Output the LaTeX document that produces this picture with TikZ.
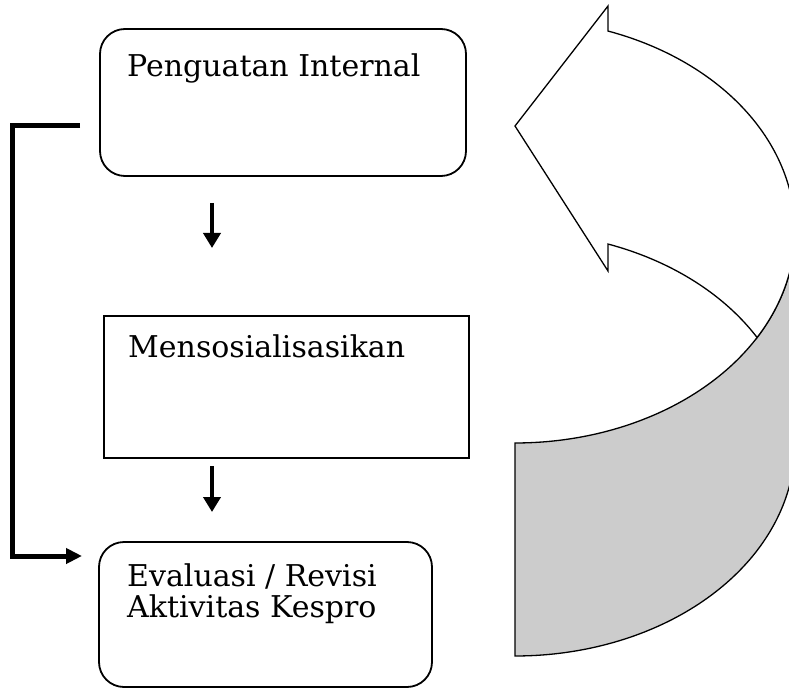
\documentclass[tikz,border=0pt]{standalone}
\usepackage{fontspec}
\setmainfont{DejaVu Serif}
\usetikzlibrary{arrows.meta}
\definecolor{bandgray}{RGB}{204,204,204}
\tikzset{
  box/.style={draw, line width=1.8pt, inner sep=0pt, outer sep=0pt},
  roundbox/.style={box, rounded corners=25pt},
  lbl/.style={anchor=base west, inner sep=0pt, font=\fontsize{30}{34}\selectfont},
  flowarrow/.style={line width=4.5pt, -{Triangle[length=15pt,width=17pt]}},
  loopline/.style={line width=5pt, -{Triangle[length=16pt,width=15pt]}},
  shell/.style={draw, line width=1.3pt, line join=miter}
}
\begin{document}
\begin{tikzpicture}[x=1pt, y=-1pt]
\useasboundingbox (0,0) rectangle (789,692);

% boxes
\node[roundbox, minimum width=366pt, minimum height=147pt] (b1) at (283,102.5) {};
\node[box, minimum width=365pt, minimum height=142pt] (b2) at (286.5,387) {};
\node[roundbox, minimum width=333pt, minimum height=145pt] (b3) at (265.5,614.5) {};

% box texts
\node[lbl] (t1) at (127,77) {Penguatan Internal};
\node[lbl] (t2) at (128,357) {Mensosialisasikan};
\node[lbl] (t3a) at (127,586) {Evaluasi / Revisi};
\node[lbl] (t3b) at (127,617) {Aktivitas Kespro};

% downward flow arrows
\draw[flowarrow] ([xshift=112pt,yshift=-27pt]b1.south west) -- ([xshift=108pt,yshift=68pt]b2.north west);
\draw[flowarrow] ([xshift=108pt,yshift=-8pt]b2.south west) -- ([xshift=113pt,yshift=30pt]b3.north west);

% feedback bracket on the left
\draw[loopline] ([xshift=-20pt,yshift=-23.5pt]b1.west) -- ++(-68,0) |- ([xshift=-17pt,yshift=58.5pt]b3.west);

% curved return arrow on the right
\begin{scope}
\clip (0,0) rectangle (789,692);
\filldraw[shell, fill=bandgray] (515,443) -- (515,656)
  -- plot[domain=90:0, samples=80] ({515+280*cos(\x)},{444+212*sin(\x)})
  -- plot[domain=0:90, samples=80] ({515+280*cos(\x)},{231+212*sin(\x)})
  -- cycle;
\filldraw[shell, fill=white] (608,6)
  -- plot[domain=-70.6:30.2, samples=100] ({515+280*cos(\x)},{231+212*sin(\x)})
  -- plot[domain=-30.2:-70.6, samples=60] ({515+280*cos(\x)},{444+212*sin(\x)})
  -- (608,271) -- (515,126) -- cycle;
\end{scope}
\end{tikzpicture}
\end{document}
